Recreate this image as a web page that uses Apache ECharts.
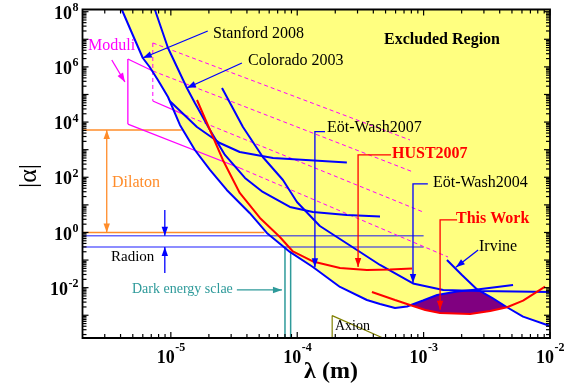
<!DOCTYPE html>
<html><head><meta charset="utf-8">
<script src="https://cdn.jsdelivr.net/npm/echarts@6/dist/echarts.min.js"></script>
<style>html,body{margin:0;padding:0;background:#fff}#c{width:577px;height:391px}</style>
</head><body><div id="c"></div>
<script>
// ---------- axis ranges & ticks ----------
const X_MIN = 2e-6, X_MAX = 1e-2, Y_MIN = 1.5e-4, Y_MAX = 1.2e8;
const xMajorExp = [-5, -4, -3, -2];
const yMajorExp = [-3, -2, -1, 0, 1, 2, 3, 4, 5, 6, 7, 8];
const xLabelExp = [-5, -4, -3, -2];
const yLabelExp = [-2, 0, 2, 4, 6, 8];
const minorMantissa = [2, 3, 4, 5, 6, 7, 8, 9];

// ---------- data (lambda [m], |alpha|) ----------
const stanfordCurve = [[4.09e-6,1.2e8],[5.0e-6,1.43e7],[6.0e-6,2.1e6],[6.8e-6,9.9e5],[7.9e-6,3.35e5],[9.5e-6,8.1e4],[1.18e-5,7.9e3],[1.55e-5,975],[2.04e-5,184],[2.77e-5,34.7],[4.2e-5,5.09],[5.75e-5,0.96],[8.75e-5,0.197],[1.33e-4,0.0562],[2.18e-4,0.0106],[3.56e-4,3.58e-3],[4.52e-4,2.57e-3],[5.94e-4,1.84e-3],[7.39e-4,2.08e-3],[9.89e-4,3.44e-3],[1.28e-3,5.44e-3],[1.84e-3,7.28e-3],[2.65e-3,8.6e-3],[5.1e-3,0.01253]];
const coloradoCurve = [[7.47e-6,1.2e8],[9.5e-6,4.84e6],[1.34e-5,1.72e5],[1.55e-5,4.92e4],[2.04e-5,5.17e3],[2.68e-5,643],[3.86e-5,94.4],[5.34e-5,29.3],[8.75e-5,8.39],[1.33e-4,5.53],[2.47e-4,4.3],[4.52e-4,3.8]];
const eotWash2007Curve = [[9.8e-6,5.81e4],[1.61e-5,6.64e3],[2.44e-5,1.75e3],[3.51e-5,826],[6.43e-5,500],[2.47e-4,344]];
const eotWash2004Curve = [[2.54e-5,1.72e5],[3.72e-5,6.64e3],[5.34e-5,544],[7.71e-5,79.8],[9.95e-5,12.7],[1.51e-4,1.72],[2.97e-4,0.232],[4.52e-4,0.0664],[8.24e-4,0.0142],[1.43e-3,8.26e-3],[2.8e-3,7.6e-3],[1e-2,6.99e-3]];
const irvineCurve = [[1.53e-3,0.101],[2.01e-3,0.0288],[2.65e-3,8.6e-3],[3.48e-3,4.24e-3],[4.57e-3,1.95e-3],[6.12e-3,8.9e-4],[1e-2,4.1e-4]];
const hust2007Curve = [[1.61e-5,6.32e4],[2.04e-5,5.17e3],[2.58e-5,424],[3.51e-5,27],[5.07e-5,3.35],[7.29e-5,0.687],[9.24e-5,0.205],[1.33e-4,0.089],[2.18e-4,0.0517],[3.56e-4,0.0438],[5.42e-4,0.0457],[8.09e-4,0.0496]];
const thisWorkCurve = [[3.9e-4,6.99e-3],[5.94e-4,3.58e-3],[7.8e-4,2.36e-3],[1.03e-3,1.56e-3],[1.35e-3,1.21e-3],[2.33e-3,1.11e-3],[3.36e-3,1.43e-3],[4.57e-3,1.95e-3],[6.12e-3,3.38e-3],[9.14e-3,0.01087]];
const thisWorkRegion = [[7.8e-4,2.36e-3],[9.89e-4,3.44e-3],[1.28e-3,5.44e-3],[1.84e-3,7.28e-3],[2.65e-3,8.6e-3],[3.48e-3,4.24e-3],[4.57e-3,1.95e-3],[3.36e-3,1.43e-3],[2.33e-3,1.11e-3],[1.35e-3,1.21e-3],[1.03e-3,1.56e-3]];
const excludedRegion = stanfordCurve.slice(0, 23).concat([[3.48e-3,4.24e-3],[4.57e-3,1.95e-3],[6.12e-3,8.9e-4],[1e-2,4.1e-4],[1e-2,1.2e8]]);
// Moduli
const moduliSolid = [
  [[4.57e-6,1.93e6],[4.57e-6,8.5e3]],
  [[4.57e-6,1.93e6],[7.2e-6,7.1e5]],
  [[4.57e-6,8.5e3],[3.51e-5,217]],
  [[7.2e-6,5.81e4],[1.29e-5,1.81e4]]
];
const moduliDashed = [
  [[7.2e-6,7.35e6],[7.2e-6,5.81e4]],
  [[7.2e-6,7.35e6],[7.8e-4,2.25e3]],
  [[7.2e-6,7.1e5],[8.24e-4,156]],
  [[1.29e-5,1.81e4],[9.89e-4,5.53]],
  [[3.51e-5,217],[1.56e-3,0.129]]
];
const dilatonLines = [[[X_MIN,5.17e3],[1.22e-5,5.17e3]], [[X_MIN,1.0],[5.5e-5,1.0]]];
const radionLines = [[[X_MIN,0.766],[1e-3,0.766]], [[X_MIN,0.298],[1e-3,0.298]]];
const darkEnergyLines = [[[8.0e-5,0.3],[8.0e-5,Y_MIN]], [[8.87e-5,0.2],[8.87e-5,Y_MIN]]];
const axionLine = [[1.89e-4,Y_MIN],[1.89e-4,9.7e-4],[4.77e-4,Y_MIN]];

// pointers / arrows (data coordinates)
const pointers = [
  {pts:[[1.96e-5,2.0e7],[6.0e-6,2.1e6]], c:'#0000ff'},
  {pts:[[3.65e-5,1.38e6],[1.34e-5,1.72e5]], c:'#0000ff'},
  {pts:[[1.66e-4,4.49e3],[1.38e-4,4.49e3],[1.38e-4,0.055]], c:'#0000ff'},
  {pts:[[5.52e-4,643],[3.03e-4,643],[3.03e-4,0.056]], c:'#ff0000'},
  {pts:[[1.08e-3,57.2],[8.24e-4,57.2],[8.24e-4,0.0148]], c:'#0000ff'},
  {pts:[[1.84e-3,2.84],[1.35e-3,2.84],[1.35e-3,1.6e-3]], c:'#ff0000'},
  {pts:[[2.7e-3,0.232],[1.8e-3,0.0548]], c:'#0000ff'},
  {pts:[[3.41e-6,1.78e6],[4.33e-6,2.84e5]], c:'#ff00ff'},
  {pts:[[3.11e-6,5.17e3],[3.11e-6,1.0]], c:'#ff8c2a', both:true},
  {pts:[[8.96e-6,6.5],[8.96e-6,0.766]], c:'#0000ff'},
  {pts:[[8.96e-6,0.034],[8.96e-6,0.298]], c:'#0000ff'},
  {pts:[[3.33e-5,8.26e-3],[7.57e-5,8.26e-3]], c:'#2e9a9a'}
];

// text annotations
const FONT = '"Liberation Serif","Times New Roman",serif';
const textLabels = [
  {t:'Stanford 2008', x:213, y:35, c:'#000', s:16},
  {t:'Colorado 2003', x:248, y:62, c:'#000', s:16},
  {t:'Excluded Region', x:384, y:41, c:'#000', s:16, b:true},
  {t:'Eöt-Wash2007', x:327, y:129, c:'#000', s:16},
  {t:'HUST2007', x:392, y:155, c:'#ff0000', s:16, b:true},
  {t:'Eöt-Wash2004', x:433, y:184, c:'#000', s:16},
  {t:'This Work', x:456, y:220, c:'#ff0000', s:16, b:true},
  {t:'Irvine', x:479, y:248, c:'#000', s:16},
  {t:'Moduli', x:88, y:47, c:'#ff00ff', s:16},
  {t:'Dilaton', x:112, y:184, c:'#ff8c2a', s:16},
  {t:'Radion', x:111, y:259, c:'#000', s:15},
  {t:'Dark energy sclae', x:132, y:291, c:'#2e9a9a', s:14},
  {t:'Axion', x:335, y:328, c:'#000', s:14}
];

// ---------- helpers ----------
function custom(z, build) {
  return {type:'custom', coordinateSystem:'cartesian2d', silent:true, z:z, clip:false,
    data:[[X_MIN, Y_MIN]], encode:{x:0, y:1},
    renderItem:function(params, api){ return {type:'group', children: build(api)}; }};
}
function lineSeries(data, color, width, z, dashed, opacity) {
  return {type:'line', data:data, showSymbol:false, silent:true, z:z, animation:false,
    lineStyle:{color:color, width:width, type: dashed ? [4,3] : 'solid', opacity: opacity == null ? 1 : opacity}};
}
function head(tip, from, color) {
  const dx = tip[0]-from[0], dy = tip[1]-from[1], L = Math.hypot(dx, dy) || 1;
  const ux = dx/L, uy = dy/L, len = 9, w = 3.2;
  const bx = tip[0]-ux*len, by = tip[1]-uy*len;
  return {type:'polygon', shape:{points:[tip,[bx-uy*w, by+ux*w],[bx+uy*w, by-ux*w]]}, style:{fill:color}};
}

const series = [];
// excluded region
series.push(custom(1, api => [{type:'polygon', shape:{points: excludedRegion.map(p => api.coord(p))}, style:{fill:'#ffff80'}}]));
// this work region
series.push(custom(2, api => [{type:'polygon', shape:{points: thisWorkRegion.map(p => api.coord(p))}, style:{fill:'#800080'}}]));
// reference lines
dilatonLines.forEach(d => series.push(lineSeries(d, '#ff8c2a', 1.5, 3)));
radionLines.forEach(d => series.push(lineSeries(d, '#0000ff', 1.5, 3, false, 0.6)));
darkEnergyLines.forEach(d => series.push(lineSeries(d, '#2e9a9a', 1.5, 3)));
series.push(lineSeries(axionLine, '#808000', 1.2, 3));
moduliSolid.forEach(d => series.push(lineSeries(d, '#ff00ff', 1.3, 4)));
moduliDashed.forEach(d => series.push(lineSeries(d, '#ff00ff', 1, 4, true)));
// experiment curves
[stanfordCurve, coloradoCurve, eotWash2007Curve, eotWash2004Curve, irvineCurve].forEach(d => series.push(lineSeries(d, '#0000ff', 2, 5)));
series.push(lineSeries(hust2007Curve, '#ff0000', 2, 5));
series.push(lineSeries(thisWorkCurve, '#ff0000', 2, 6));
// pointers
series.push(custom(7, api => {
  const els = [];
  pointers.forEach(a => {
    const p = a.pts.map(q => api.coord(q));
    els.push({type:'polyline', shape:{points:p}, style:{stroke:a.c, lineWidth:1.3, fill:'none'}});
    els.push(head(p[p.length-1], p[p.length-2], a.c));
    if (a.both) els.push(head(p[0], p[1], a.c));
  });
  return els;
}));
// frame, ticks, tick labels
series.push(custom(10, api => {
  const els = [];
  const bl = api.coord([X_MIN, Y_MIN]), tr = api.coord([X_MAX, Y_MAX]);
  const xt = [], yt = [];
  xMajorExp.forEach(e => xt.push({v: Math.pow(10, e), m: true}));
  for (let e = -6; e <= -3; e++) minorMantissa.forEach(k => { const v = k*Math.pow(10, e); if (v > X_MIN && v < X_MAX) xt.push({v, m:false}); });
  yMajorExp.forEach(e => yt.push({v: Math.pow(10, e), m: true}));
  for (let e = -4; e <= 8; e++) minorMantissa.forEach(k => { const v = k*Math.pow(10, e); if (v > Y_MIN && v < Y_MAX) yt.push({v, m:false}); });
  xt.forEach(t => {
    const x = api.coord([t.v, Y_MIN])[0], L = t.m ? 6 : 4;
    els.push({type:'line', shape:{x1:x, y1:bl[1], x2:x, y2:bl[1]-L}, style:{stroke:'#000', lineWidth:1.2}});
    els.push({type:'line', shape:{x1:x, y1:tr[1], x2:x, y2:tr[1]+L}, style:{stroke:'#000', lineWidth:1.2}});
  });
  yt.forEach(t => {
    const y = api.coord([X_MIN, t.v])[1], L = t.m ? 6 : 4;
    els.push({type:'line', shape:{x1:bl[0], y1:y, x2:bl[0]+L, y2:y}, style:{stroke:'#000', lineWidth:1.2}});
    els.push({type:'line', shape:{x1:tr[0], y1:y, x2:tr[0]-L, y2:y}, style:{stroke:'#000', lineWidth:1.2}});
  });
  els.push({type:'rect', shape:{x:bl[0], y:tr[1], width:tr[0]-bl[0], height:bl[1]-tr[1]}, style:{stroke:'#000', lineWidth:1.8, fill:'none'}});
  xLabelExp.forEach(e => {
    const x = api.coord([Math.pow(10, e), Y_MIN])[0];
    els.push({type:'text', x:x+4, y:bl[1]+20, style:{text:'10', font:'bold 18px '+FONT, fill:'#000', align:'right', verticalAlign:'middle'}});
    els.push({type:'text', x:x+4.5, y:bl[1]+10, style:{text:String(e), font:'bold 12px '+FONT, fill:'#000', align:'left', verticalAlign:'middle'}});
  });
  yLabelExp.forEach(e => {
    const y = api.coord([X_MIN, Math.pow(10, e)])[1];
    const sup = String(e);
    const supW = sup.length > 1 ? 10 : 6;
    els.push({type:'text', x:78-supW, y:y+2.5, style:{text:'10', font:'bold 18px '+FONT, fill:'#000', align:'right', verticalAlign:'middle'}});
    els.push({type:'text', x:78-supW+0.5, y:y-3.5, style:{text:sup, font:'bold 12px '+FONT, fill:'#000', align:'left', verticalAlign:'middle'}});
  });
  return els;
}));

const graphics = textLabels.map(l => ({type:'text', left:l.x, top:l.y-l.s*0.6, z:100, silent:true,
  style:{text:l.t, font:(l.b?'bold ':'')+l.s+'px '+FONT, fill:l.c}}));
graphics.push({type:'text', x:29, y:176, rotation:Math.PI/2, z:100, silent:true,
  style:{text:'|α|', font:'26px '+FONT, fill:'#000', align:'center', verticalAlign:'middle'}});
graphics.push({type:'text', x:331, y:372, z:100, silent:true,
  style:{text:'λ (m)', font:'bold 24px '+FONT, fill:'#000', align:'center', verticalAlign:'middle'}});

const chart = echarts.init(document.getElementById('c'), null, {renderer:'canvas'});
chart.setOption({
  animation:false,
  grid:{left:82.5, right:27, top:9.5, bottom:53, show:false},
  xAxis:{type:'log', logBase:10, min:X_MIN, max:X_MAX, axisLine:{show:false}, axisTick:{show:false}, axisLabel:{show:false}, splitLine:{show:false}},
  yAxis:{type:'log', logBase:10, min:Y_MIN, max:Y_MAX, axisLine:{show:false}, axisTick:{show:false}, axisLabel:{show:false}, splitLine:{show:false}},
  series:series,
  graphic:graphics
});
</script></body></html>
